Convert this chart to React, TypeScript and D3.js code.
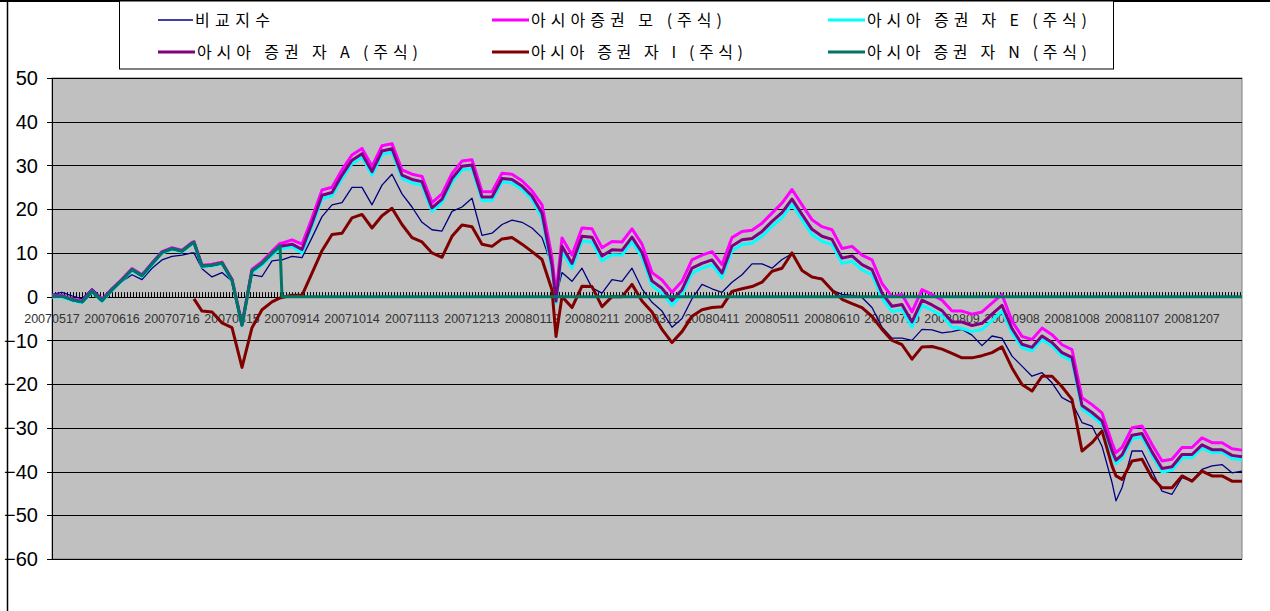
import React from 'react';
import * as d3 from 'd3';

// day offsets from 2007-05-17
const days = [
  0, 5, 10, 15, 20, 25, 30, 35, 40, 45, 50, 55, 60, 65, 70, 71, 75, 80, 85, 90, 95, 100, 105, 110, 114, 115, 120,
  125, 130, 135, 140, 145, 150, 155, 160, 165, 170, 175, 180, 185, 190, 195, 200, 205, 210, 215, 220, 225, 230, 235, 240,
  245, 250, 252, 255, 260, 265, 270, 275, 280, 285, 290, 295, 300, 305, 310, 315, 320, 325, 330, 335, 340, 345, 350, 355, 360,
  365, 370, 375, 380, 385, 390, 395, 400, 405, 410, 415, 420, 425, 430, 435, 440, 445, 450, 455, 460, 465, 470, 475, 480,
  485, 490, 495, 500, 505, 510, 515, 520, 525, 530, 532, 535, 540, 545, 550, 555, 560, 565, 570, 575, 580, 585, 590, 595,
];

const benchmark: (number | null)[] = [
  0.5, 1.0, 0.2, -0.5, 1.8, -0.3, 2.0, 3.5, 5.0, 3.9, 6.5, 8.4, 9.2, 9.5, 10.0, 10.0, 6.4, 4.5, 5.5, 3.5, -6.0, 5.0, 4.6, 8.2, 8.4, 8.4, 9.2,
  8.9, 13.5, 18.3, 21.0, 21.5, 25.0, 25.0, 21.0, 25.5, 28.0, 23.5, 20.5, 17.0, 15.3, 15.0, 19.5, 20.5, 22.5, 14.0, 14.5, 16.5, 17.5, 17.0, 15.7,
  13.5, 7.0, 0.0, 5.5, 3.5, 6.5, 2.0, 0.8, 3.9, 3.5, 6.5, 1.8, -1.3, -3.3, -7.0, -5.0, -0.5, 2.8, 1.8, 1.0, 3.3, 5.0, 7.5, 7.5, 6.5,
  8.5, 9.8, 6.0, 4.5, 4.2, 1.5, 0.5, 0.3, -0.2, -2.5, -7.0, -9.5, -9.5, -10.0, -7.5, -7.6, -8.3, -8.0, -7.5, -8.8, -11.2, -9.0, -9.5, -13.6,
  -15.9, -18.2, -17.4, -19.7, -23.1, -24.3, -28.8, -29.6, -34.2, -42.5, -46.7, -43.7, -35.3, -35.3, -39.9, -44.5, -45.2, -41.4, -42.2, -39.5, -38.7, -38.4, -40.3, -39.9,
];

const fundMo: (number | null)[] = [
  0.3, 0.3, -0.5, -1.0, 1.4, -0.7, 1.8, 4.0, 6.4, 5.0, 7.7, 10.3, 11.2, 10.6, 12.4, 12.6, 7.2, 7.4, 7.9, 4.0, -6.3, 6.3, 8.0, 10.4, 12.2, 12.2, 13.0,
  12.0, 18.0, 24.4, 25.0, 29.0, 32.4, 33.9, 29.8, 34.5, 35.0, 29.0, 28.0, 27.5, 21.5, 23.5, 28.2, 31.0, 31.3, 24.0, 24.0, 28.2, 28.0, 26.5, 24.2,
  21.0, 9.0, 0.5, 13.4, 9.5, 15.7, 15.5, 11.2, 12.6, 12.5, 15.5, 12.0, 5.5, 3.8, 1.0, 3.5, 8.4, 9.5, 10.3, 7.3, 13.5, 14.9, 15.2, 16.8, 19.1,
  21.4, 24.5, 21.0, 17.6, 16.0, 15.3, 11.0, 11.5, 9.5, 8.4, 3.0, 0.0, 0.5, -3.5, 1.6, 0.5, -0.8, -3.3, -3.3, -4.0, -3.5, -1.5, 0.5, -5.6,
  -9.1, -9.8, -7.2, -8.7, -11.0, -12.1, -23.1, -24.7, -26.6, -33.4, -35.7, -34.5, -30.0, -29.6, -33.8, -37.6, -37.2, -34.5, -34.5, -32.3, -33.4, -33.4, -34.8, -35.1,
];

const fundE: (number | null)[] = [
  -0.1, -0.1, -0.9, -1.4, 1.0, -1.1, 1.4, 3.6, 6.0, 4.6, 7.3, 9.9, 10.8, 10.2, 12.0, 12.2, 6.8, 7.0, 7.5, 3.6, -6.7, 5.5, 7.2, 9.4, 11.0, 11.0, 11.4,
  10.0, 16.0, 22.4, 23.0, 27.0, 30.4, 31.9, 27.8, 32.5, 33.0, 27.0, 26.0, 25.5, 19.5, 21.5, 26.2, 29.0, 29.3, 22.0, 22.0, 26.2, 26.0, 24.5, 22.2,
  18.0, 6.0, -1.5, 10.4, 6.5, 12.7, 12.5, 8.2, 9.6, 9.5, 12.5, 9.0, 2.5, 0.8, -2.0, 0.5, 5.4, 6.5, 7.3, 4.3, 10.5, 11.9, 12.2, 13.8, 16.1,
  18.0, 21.1, 17.6, 14.2, 12.6, 11.9, 7.6, 8.1, 6.1, 5.0, -0.4, -3.4, -3.0, -7.0, -2.0, -3.1, -4.4, -7.0, -7.3, -8.0, -7.5, -5.5, -3.3, -8.3,
  -11.7, -12.4, -9.8, -11.3, -13.6, -14.7, -25.7, -27.3, -29.2, -36.0, -38.2, -37.0, -32.5, -32.1, -36.3, -40.1, -39.7, -36.9, -36.8, -34.6, -35.7, -35.6, -37.0, -37.3,
];

const fundA: (number | null)[] = [
  0.1, 0.1, -0.7, -1.2, 1.2, -0.9, 1.6, 3.8, 6.2, 4.8, 7.5, 10.1, 11.0, 10.4, 12.2, 12.4, 7.0, 7.2, 7.7, 3.8, -6.5, 5.9, 7.6, 9.9, 11.6, 11.6, 12.0,
  10.8, 16.8, 23.2, 23.8, 27.8, 31.2, 32.7, 28.6, 33.3, 33.8, 27.8, 26.8, 26.3, 20.3, 22.3, 27.0, 29.8, 30.1, 22.8, 22.8, 27.0, 26.8, 25.3, 23.0,
  19.1, 7.1, -1.0, 11.5, 7.6, 13.8, 13.6, 9.3, 10.7, 10.6, 13.6, 10.1, 3.6, 1.9, -0.9, 1.6, 6.5, 7.6, 8.4, 5.4, 11.6, 13.0, 13.3, 14.9, 17.2,
  19.2, 22.3, 18.8, 15.4, 13.8, 13.1, 8.8, 9.3, 7.3, 6.2, 0.8, -2.2, -1.8, -5.8, -0.8, -1.9, -3.2, -5.8, -5.8, -6.6, -6.1, -4.0, -2.0, -7.3,
  -10.9, -11.6, -9.0, -10.5, -12.8, -13.9, -24.9, -26.5, -28.4, -35.2, -37.4, -36.2, -31.7, -31.3, -35.5, -39.3, -38.9, -36.1, -36.1, -33.9, -35.0, -35.0, -36.3, -36.6,
];

const fundI: (number | null)[] = [
  null, null, null, null, null, null, null, null, null, null, null, null, null, null, null, -0.5, -3.3, -3.5, -6.0, -7.1, -16.2, -7.1, -3.0, -1.2, -0.3, -0.2, 0.3,
  0.3, 5.4, 10.5, 14.2, 14.5, 18.0, 18.8, 15.7, 18.5, 20.2, 16.5, 13.5, 12.5, 10.0, 9.0, 13.8, 16.4, 16.0, 12.0, 11.5, 13.2, 13.5, 12.0, 10.3,
  8.5, 1.5, -9.1, 0.0, -2.5, 2.4, 2.3, -2.3, 0.0, 0.0, 2.8, -1.0, -3.5, -7.5, -10.5, -8.0, -4.5, -3.0, -2.5, -2.3, 1.2, 1.8, 2.3, 3.3, 5.8,
  6.5, 10.0, 6.0, 4.5, 4.0, 1.5, -0.6, -1.6, -2.5, -4.5, -7.5, -10.0, -11.0, -14.3, -11.5, -11.4, -12.0, -13.0, -14.0, -14.0, -13.5, -12.8, -11.5, -16.3,
  -20.1, -21.6, -18.2, -18.2, -20.6, -23.5, -35.3, -33.4, -30.7, -38.7, -41.0, -41.8, -37.6, -37.2, -41.4, -43.7, -43.7, -41.0, -42.2, -39.9, -41.0, -41.0, -42.2, -42.2,
];

const fundN: (number | null)[] = [
  0.1, 0.1, -0.7, -1.2, 1.2, -0.9, 1.6, 3.8, 6.2, 4.8, 7.5, 10.1, 11.0, 10.4, 12.2, 12.4, 7.0, 7.2, 7.7, 3.8, -6.5, 5.9, 7.6, 9.9, 11.6, 0, 0,
  0, 0, 0, 0, 0, 0, 0, 0, 0, 0, 0, 0, 0, 0, 0, 0, 0, 0, 0, 0, 0, 0, 0, 0,
  0, 0, 0, 0, 0, 0, 0, 0, 0, 0, 0, 0, 0, 0, 0, 0, 0, 0, 0, 0, 0, 0, 0, 0, 0,
  0, 0, 0, 0, 0, 0, 0, 0, 0, 0, 0, 0, 0, 0, 0, 0, 0, 0, 0, 0, 0, 0, 0, 0,
  0, 0, 0, 0, 0, 0, 0, 0, 0, 0, 0, 0, 0, 0, 0, 0, 0, 0, 0, 0, 0, 0, 0, 0,
];

const xTickLabels = [
  '20070517', '20070616', '20070716', '20070815', '20070914', '20071014', '20071113', '20071213', '20080112', '20080211',
  '20080312', '20080411', '20080511', '20080610', '20080710', '20080809', '20080908', '20081008', '20081107', '20081207',
];
const xTickDays = [0, 30, 60, 90, 120, 150, 180, 210, 240, 270, 300, 330, 360, 390, 420, 450, 480, 510, 540, 570];
const yTicks = [50, 40, 30, 20, 10, 0, -10, -20, -30, -40, -50, -60];

const seriesNames = [
  '비교지수',
  '아시아증권 모 (주식)',
  '아시아 증권 자 E (주식)',
  '아시아 증권 자 A (주식)',
  '아시아 증권 자 I (주식)',
  '아시아 증권 자 N (주식)',
];

export default function App() {
  const W = 1270;
  const H = 611;
  const pl = 52, pr = 1242, pt = 78, pb = 559;
  const x = d3.scaleLinear().domain([0, 595]).range([pl, pr]);
  const y = d3.scaleLinear().domain([-60, 50]).range([pb, pt]);

  const line = d3
    .line<number | null>()
    .defined((v) => v != null)
    .x((_, i) => x(days[i]))
    .y((v) => y(v as number));

  const series = [
    { name: seriesNames[0], data: benchmark, color: '#000080', w: 1.3 },
    { name: seriesNames[1], data: fundMo, color: '#FF00FF', w: 3 },
    { name: seriesNames[2], data: fundE, color: '#00FFFF', w: 3 },
    { name: seriesNames[3], data: fundA, color: '#800080', w: 3 },
    { name: seriesNames[4], data: fundI, color: '#800000', w: 3 },
    { name: seriesNames[5], data: fundN, color: '#007564', w: 3 },
  ];

  const legendPos = [
    { lx: 158, tx: 195, y: 20, tl: 75, s: 0 },
    { lx: 492, tx: 531, y: 20, tl: 191, s: 1 },
    { lx: 828, tx: 867, y: 20, tl: 220, s: 2 },
    { lx: 158, tx: 197, y: 52, tl: 221, s: 3 },
    { lx: 492, tx: 531, y: 52, tl: 212, s: 4 },
    { lx: 828, tx: 867, y: 52, tl: 220, s: 5 },
  ];

  const dayTicks = d3.range(0, 595, 1.5);
  const fmt = (v: number) => (v < 0 ? '\u2212' + Math.abs(v) : String(v));

  return (
    <svg
      width={W}
      height={H}
      style={{ position: 'absolute', left: 0, top: 0, background: '#fff' }}
      xmlns="http://www.w3.org/2000/svg"
    >
      <rect x={0} y={0} width={W} height={H} fill="#fff" />
      {/* outer chart frame */}
      <line x1={7.5} y1={0} x2={7.5} y2={H} stroke="#000" strokeWidth={1.5} />
      <line x1={0} y1={1} x2={W} y2={1} stroke="#000" strokeWidth={2} />

      {/* plot area */}
      <rect x={pl} y={pt} width={pr - pl} height={pb - pt} fill="#C0C0C0" stroke="#808080" strokeWidth={1} />
      {yTicks.map((t) => (
        <line key={'g' + t} x1={pl} x2={pr} y1={Math.round(y(t)) + 0.5} y2={Math.round(y(t)) + 0.5} stroke="#000" strokeWidth={1} />
      ))}
      <line x1={pl + 0.5} x2={pl + 0.5} y1={pt} y2={pb} stroke="#000" strokeWidth={1} />
      {yTicks.map((t) => (
        <line key={'yt' + t} x1={pl - 5} x2={pl} y1={Math.round(y(t)) + 0.5} y2={Math.round(y(t)) + 0.5} stroke="#000" strokeWidth={1} />
      ))}
      {yTicks.map((t) => (
        <text
          key={'yl' + t}
          x={38}
          y={y(t)}
          dy="0.36em"
          textAnchor="end"
          fontFamily="'Liberation Sans', Arial, sans-serif"
          fontSize={20}
          fill="#000"
        >
          {fmt(t)}
        </text>
      ))}

      {/* category axis at zero with dense ticks */}
      <line x1={pl} x2={pr} y1={Math.round(y(0)) + 0.5} y2={Math.round(y(0)) + 0.5} stroke="#000" strokeWidth={1} />
      {dayTicks.map((d) => (
        <line
          key={'dt' + d}
          x1={Math.round(x(d)) + 0.5}
          x2={Math.round(x(d)) + 0.5}
          y1={y(0) - 4.5}
          y2={y(0) + 1}
          stroke="#000"
          strokeWidth={1}
        />
      ))}
      {xTickLabels.map((lab, i) => (
        <text
          key={'xl' + lab}
          x={x(xTickDays[i])}
          y={y(0) + 26}
          textAnchor="middle"
          fontFamily="'Liberation Sans', Arial, sans-serif"
          fontSize={12.5}
          fill="#333"
        >
          {lab}
        </text>
      ))}

      {/* series */}
      {series.map((s) => (
        <path key={s.name} d={line(s.data) || ''} fill="none" stroke={s.color} strokeWidth={s.w} strokeLinejoin="round" />
      ))}

      {/* legend */}
      <rect x={119.5} y={1} width={994} height={68} fill="#fff" stroke="#000" strokeWidth={1} />
      {legendPos.map((p) => {
        const s = series[p.s];
        return (
          <g key={'lg' + p.s}>
            <line x1={p.lx} x2={p.tx - 2} y1={p.y} y2={p.y} stroke={s.color} strokeWidth={s.w} />
            <text
              x={p.tx}
              y={p.y}
              dy="0.36em"
              fontFamily="'Noto Sans CJK KR', sans-serif"
              fontSize={16}
              textLength={p.tl}
              lengthAdjust="spacing"
              fill="#000"
            >
              {s.name}
            </text>
          </g>
        );
      })}
    </svg>
  );
}
